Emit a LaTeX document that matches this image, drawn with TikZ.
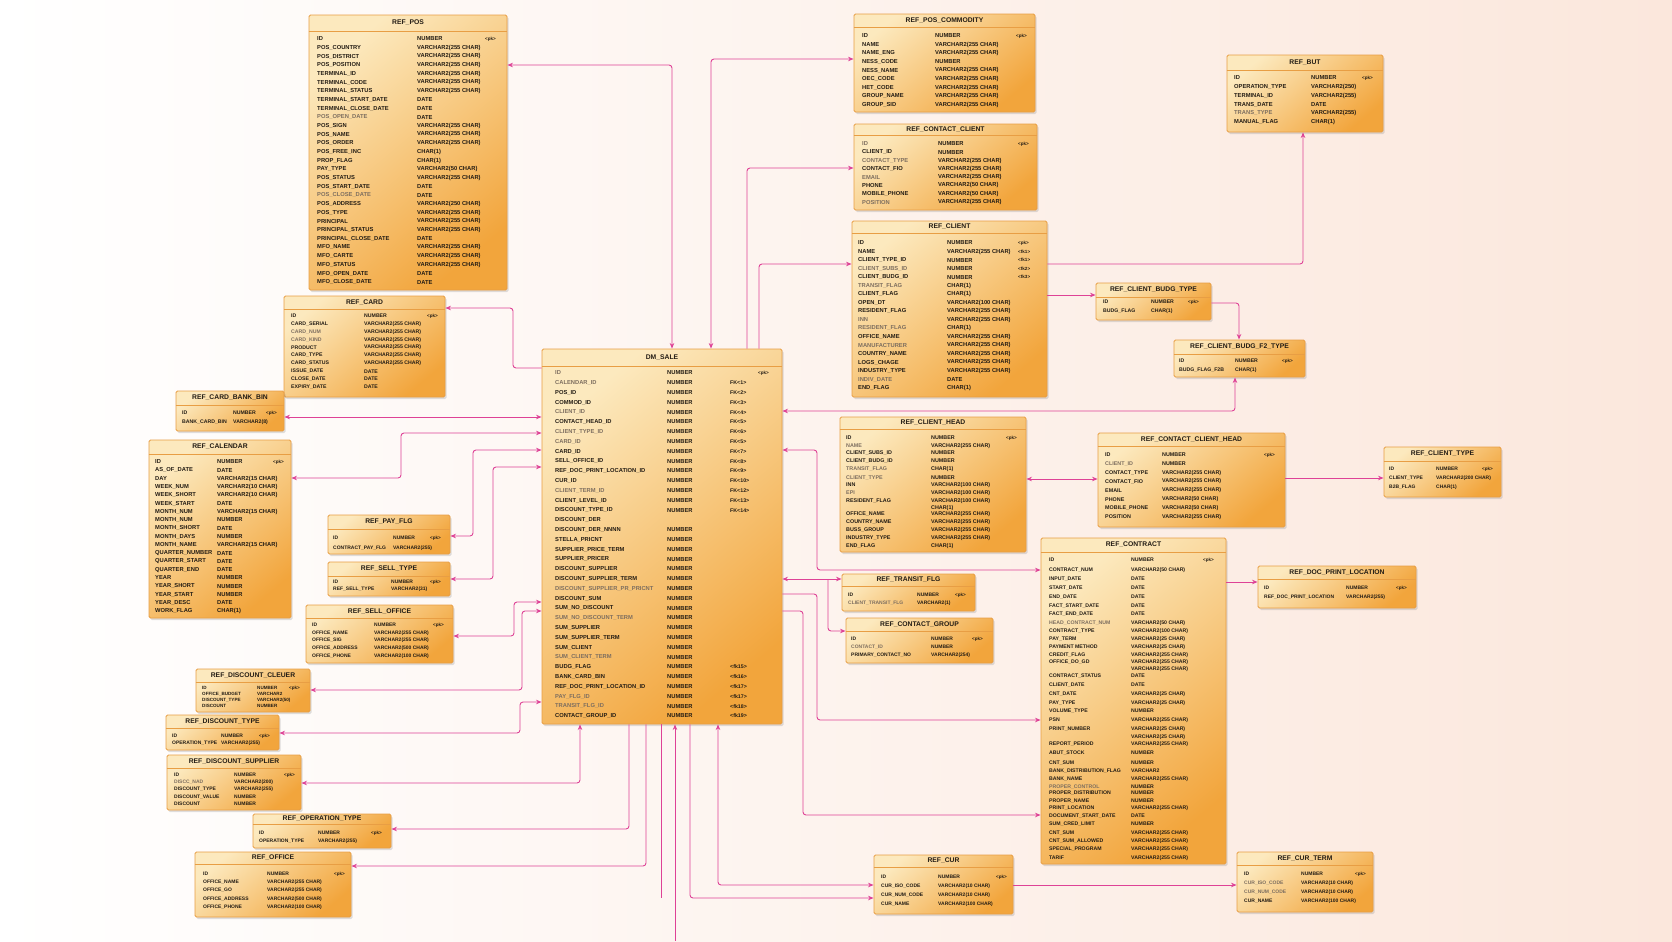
\documentclass[tikz,border=0pt]{standalone}
\usepackage{fontspec}
\setmainfont{Liberation Sans}
\usetikzlibrary{arrows.meta,shadows,fit,calc}
\definecolor{lnk}{RGB}{222,66,150}
\definecolor{bedge}{RGB}{232,158,68}
\definecolor{blight}{RGB}{252,233,190}
\definecolor{bdark}{RGB}{242,165,60}
\definecolor{txt}{RGB}{35,28,20}
\definecolor{txtl}{RGB}{125,110,95}
\definecolor{bgpeach}{RGB}{251,231,220}
\newcommand\fd{\color{txtl}}
\def\rfs{5.8}
\def\kfs{4.6}
\tikzset{
  tbl/.style={draw=bedge, line width=0.9bp, rounded corners=1.5bp, inner sep=0pt,
    top color=blight, bottom color=bdark, shading angle=40,
    drop shadow={shadow xshift=1.5bp, shadow yshift=-2bp, opacity=0.25}},
  hline/.style={draw=bedge, line width=0.7bp},
  ttl/.style={font=\fontsize{6.8}{7}\selectfont\bfseries, text=txt, inner sep=0pt},
  fld/.style={anchor=west, font=\fontsize{\rfs}{6}\selectfont\bfseries, text=txt, inner sep=0pt},
  keyt/.style={anchor=west, font=\fontsize{\kfs}{5}\selectfont\bfseries, text=txt, inner sep=0pt},
  fk/.style={draw=lnk, line width=0.9bp, rounded corners=3bp},
  ar/.style={-{Stealth[length=5.5bp,width=4.5bp]}},
  ra/.style={{Stealth[length=5.5bp,width=4.5bp]}-},
  arb/.style={{Stealth[length=5.5bp,width=4.5bp]}-{Stealth[length=5.5bp,width=4.5bp]}},
  ao/.style={-{Stealth[open,length=5.5bp,width=4.5bp]}},
  aob/.style={{Stealth[open,length=5.5bp,width=4.5bp]}-{Stealth[length=5.5bp,width=4.5bp]}},
  abo/.style={{Stealth[length=5.5bp,width=4.5bp]}-{Stealth[open,length=5.5bp,width=4.5bp]}},
}
% id x1 y1 x2 y2 yheader title
\newcommand\ertab[7]{%
  \node[tbl, fit={(#2,#3) (#4,#5)}] (#1) {};
  \draw[hline] (#1.west |- 0,#6) -- (#1.east |- 0,#6);
  \node[ttl] (#1-t) at ({(#2+#4)/2},{(#3+#6)/2}) {#7};
}
% id fx tx kx y0 dy list
\newcommand\rowsu[7]{%
  \foreach \f/\t/\k [count=\i from 0] in {#7} {
    \node[fld] (#1-f\i) at (#2,{#5+\i*#6}) {\f};
    \node[fld] (#1-y\i) at (#3,{#5+\i*#6}) {\t};
    \node[keyt] (#1-k\i) at (#4,{#5+\i*#6}) {\k};
  }}
% id fx tx kx list f/t/k/y
\newcommand\rowsy[5]{%
  \foreach \f/\t/\k/\y [count=\i from 0] in {#5} {
    \node[fld] (#1-f\i) at (#2,\y) {\f};
    \node[fld] (#1-y\i) at (#3,\y) {\t};
    \node[keyt] (#1-k\i) at (#4,\y) {\k};
  }}
\begin{document}
\begin{tikzpicture}[x=1bp,y=-1bp]
\useasboundingbox (0,0) rectangle (1672,941);
\shade[left color=white, right color=bgpeach] (0,0) rectangle (1672,941);

% ---------------- tables ----------------
\ertab{pos}{309}{15}{507}{290}{31}{REF\_POS}
\rowsu{pos}{317}{417}{485}{39}{8.68}{ID/NUMBER/<pk>,POS\_COUNTRY/VARCHAR2(255 CHAR)/{},POS\_DISTRICT/VARCHAR2(255 CHAR)/{},POS\_POSITION/VARCHAR2(255 CHAR)/{},TERMINAL\_ID/VARCHAR2(255 CHAR)/{},TERMINAL\_CODE/VARCHAR2(255 CHAR)/{},TERMINAL\_STATUS/VARCHAR2(255 CHAR)/{},TERMINAL\_START\_DATE/DATE/{},TERMINAL\_CLOSE\_DATE/DATE/{},\fd POS\_OPEN\_DATE/DATE/{},POS\_SIGN/VARCHAR2(255 CHAR)/{},POS\_NAME/VARCHAR2(255 CHAR)/{},POS\_ORDER/VARCHAR2(255 CHAR)/{},POS\_FREE\_INC/CHAR(1)/{},PROP\_FLAG/CHAR(1)/{},PAY\_TYPE/VARCHAR2(50 CHAR)/{},POS\_STATUS/VARCHAR2(255 CHAR)/{},POS\_START\_DATE/DATE/{},\fd POS\_CLOSE\_DATE/DATE/{},POS\_ADDRESS/VARCHAR2(250 CHAR)/{},POS\_TYPE/VARCHAR2(255 CHAR)/{},PRINCIPAL/VARCHAR2(255 CHAR)/{},PRINCIPAL\_STATUS/VARCHAR2(255 CHAR)/{},PRINCIPAL\_CLOSE\_DATE/DATE/{},MFO\_NAME/VARCHAR2(255 CHAR)/{},MFO\_CARTE/VARCHAR2(255 CHAR)/{},MFO\_STATUS/VARCHAR2(255 CHAR)/{},MFO\_OPEN\_DATE/DATE/{},MFO\_CLOSE\_DATE/DATE/{}}

\ertab{poscom}{854}{14}{1035}{112}{27}{REF\_POS\_COMMODITY}
\rowsu{poscom}{862}{935}{1016}{36}{8.6}{ID/NUMBER/<pk>,NAME/VARCHAR2(255 CHAR)/{},NAME\_ENG/VARCHAR2(255 CHAR)/{},NESS\_CODE/NUMBER/{},NESS\_NAME/VARCHAR2(255 CHAR)/{},OEC\_CODE/VARCHAR2(255 CHAR)/{},HET\_CODE/VARCHAR2(255 CHAR)/{},GROUP\_NAME/VARCHAR2(255 CHAR)/{},GROUP\_SID/VARCHAR2(255 CHAR)/{}}

\ertab{contcl}{854}{124}{1037}{210}{135}{REF\_CONTACT\_CLIENT}
\rowsu{contcl}{862}{938}{1018}{144}{8.3}{\fd ID/NUMBER/<pk>,CLIENT\_ID/NUMBER/{},\fd CONTACT\_TYPE/VARCHAR2(255 CHAR)/{},CONTACT\_FIO/VARCHAR2(255 CHAR)/{},\fd EMAIL/VARCHAR2(255 CHAR)/{},PHONE/VARCHAR2(50 CHAR)/{},MOBILE\_PHONE/VARCHAR2(50 CHAR)/{},\fd POSITION/VARCHAR2(255 CHAR)/{}}

\ertab{client}{852}{221}{1047}{397}{233}{REF\_CLIENT}
\rowsu{client}{858}{947}{1018}{243}{8.53}{ID/NUMBER/<pk>,NAME/VARCHAR2(255 CHAR)/<fk1>,CLIENT\_TYPE\_ID/NUMBER/<fk1>,\fd CLIENT\_SUBS\_ID/NUMBER/<fk2>,CLIENT\_BUDG\_ID/NUMBER/<fk3>,\fd TRANSIT\_FLAG/CHAR(1)/{},CLIENT\_FLAG/CHAR(1)/{},OPEN\_DT/VARCHAR2(100 CHAR)/{},RESIDENT\_FLAG/VARCHAR2(255 CHAR)/{},\fd INN/VARCHAR2(255 CHAR)/{},\fd RESIDENT\_FLAG/CHAR(1)/{},OFFICE\_NAME/VARCHAR2(255 CHAR)/{},\fd MANUFACTURER/VARCHAR2(255 CHAR)/{},COUNTRY\_NAME/VARCHAR2(255 CHAR)/{},LOGS\_CHAGE/VARCHAR2(255 CHAR)/{},INDUSTRY\_TYPE/VARCHAR2(255 CHAR)/{},\fd INDIV\_DATE/DATE/{},END\_FLAG/CHAR(1)/{}}

\ertab{but}{1227}{55}{1383}{132}{70}{REF\_BUT}
\rowsu{but}{1234}{1311}{1362}{78}{8.8}{ID/NUMBER/<pk>,OPERATION\_TYPE/VARCHAR2(250)/{},TERMINAL\_ID/VARCHAR2(255)/{},TRANS\_DATE/DATE/{},\fd TRANS\_TYPE/VARCHAR2(255)/{},MANUAL\_FLAG/CHAR(1)/{}}

\def\rfs{5.2}
\ertab{budg}{1096}{283}{1211}{320}{297}{REF\_CLIENT\_BUDG\_TYPE}
\rowsu{budg}{1103}{1151}{1188}{302}{9}{ID/NUMBER/<pk>,BUDG\_FLAG/CHAR(1)/{}}

\ertab{budgf}{1174}{340}{1305}{377}{354}{REF\_CLIENT\_BUDG\_F2\_TYPE}
\rowsu{budgf}{1179}{1235}{1282}{361}{9}{ID/NUMBER/<pk>,BUDG\_FLAG\_F2B/CHAR(1)/{}}
\def\rfs{5.8}

\def\kfs{5.3}
\ertab{dm}{542}{349}{782}{724}{366}{DM\_SALE}
\rowsu{dm}{555}{667}{730}{373}{9.8}{\fd ID/NUMBER/{},\fd CALENDAR\_ID/NUMBER/FK<1>,POS\_ID/NUMBER/FK<2>,COMMOD\_ID/NUMBER/FK<3>,\fd CLIENT\_ID/NUMBER/FK<4>,CONTACT\_HEAD\_ID/NUMBER/FK<5>,\fd CLIENT\_TYPE\_ID/NUMBER/FK<6>,\fd CARD\_ID/NUMBER/FK<5>,CARD\_ID/NUMBER/FK<7>,SELL\_OFFICE\_ID/NUMBER/FK<8>,REF\_DOC\_PRINT\_LOCATION\_ID/NUMBER/FK<9>,CUR\_ID/NUMBER/FK<10>,\fd CLIENT\_TERM\_ID/NUMBER/FK<12>,CLIENT\_LEVEL\_ID/NUMBER/FK<13>,DISCOUNT\_TYPE\_ID/NUMBER/FK<14>,DISCOUNT\_DER/{}/{},DISCOUNT\_DER\_NNNN/NUMBER/{},STELLA\_PRICNT/NUMBER/{},SUPPLIER\_PRICE\_TERM/NUMBER/{},SUPPLIER\_PRICER/NUMBER/{},DISCOUNT\_SUPPLIER/NUMBER/{},DISCOUNT\_SUPPLIER\_TERM/NUMBER/{},\fd DISCOUNT\_SUPPLIER\_PR\_PRICNT/NUMBER/{},DISCOUNT\_SUM/NUMBER/{},SUM\_NO\_DISCOUNT/NUMBER/{},\fd SUM\_NO\_DISCOUNT\_TERM/NUMBER/{},SUM\_SUPPLIER/NUMBER/{},SUM\_SUPPLIER\_TERM/NUMBER/{},SUM\_CLIENT/NUMBER/{},\fd SUM\_CLIENT\_TERM/NUMBER/{},BUDG\_FLAG/NUMBER/<fk15>,BANK\_CARD\_BIN/NUMBER/<fk16>,REF\_DOC\_PRINT\_LOCATION\_ID/NUMBER/<fk17>,\fd PAY\_FLG\_ID/NUMBER/<fk17>,\fd TRANSIT\_FLG\_ID/NUMBER/<fk18>,CONTACT\_GROUP\_ID/NUMBER/<fk19>}
\def\kfs{4.6}
\node[keyt] (dm-pk) at (758,373) {<pk>};

\def\rfs{5.2}
\ertab{card}{284}{296}{445}{397}{309}{REF\_CARD}
\rowsu{card}{291}{364}{427}{316}{7.9}{ID/NUMBER/<pk>,CARD\_SERIAL/VARCHAR2(255 CHAR)/{},\fd CARD\_NUM/VARCHAR2(255 CHAR)/{},\fd CARD\_KIND/VARCHAR2(255 CHAR)/{},PRODUCT/VARCHAR2(255 CHAR)/{},CARD\_TYPE/VARCHAR2(255 CHAR)/{},CARD\_STATUS/VARCHAR2(255 CHAR)/{},ISSUE\_DATE/DATE/{},CLOSE\_DATE/DATE/{},EXPIRY\_DATE/DATE/{}}

\ertab{bin}{176}{391}{284}{431}{405}{REF\_CARD\_BANK\_BIN}
\rowsu{bin}{182}{233}{266}{413}{9}{ID/NUMBER/<pk>,BANK\_CARD\_BIN/VARCHAR2(8)/{}}
\def\rfs{5.8}

\ertab{cal}{149}{440}{291}{618}{454}{REF\_CALENDAR}
\rowsu{cal}{155}{217}{273}{462}{8.28}{ID/NUMBER/<pk>,AS\_OF\_DATE/DATE/{},DAY/VARCHAR2(15 CHAR)/{},WEEK\_NUM/VARCHAR2(10 CHAR)/{},WEEK\_SHORT/VARCHAR2(10 CHAR)/{},WEEK\_START/DATE/{},MONTH\_NUM/VARCHAR2(15 CHAR)/{},MONTH\_NUM/NUMBER/{},MONTH\_SHORT/DATE/{},MONTH\_DAYS/NUMBER/{},MONTH\_NAME/VARCHAR2(15 CHAR)/{},QUARTER\_NUMBER/DATE/{},QUARTER\_START/DATE/{},QUARTER\_END/DATE/{},YEAR/NUMBER/{},YEAR\_SHORT/NUMBER/{},YEAR\_START/NUMBER/{},YEAR\_DESC/DATE/{},WORK\_FLAG/CHAR(1)/{}}

\def\rfs{5.0}
\ertab{payflg}{328}{515}{450}{554}{529}{REF\_PAY\_FLG}
\rowsu{payflg}{333}{393}{430}{538}{10}{ID/NUMBER/<pk>,CONTRACT\_PAY\_FLG/VARCHAR2(255)/{}}

\ertab{selltype}{328}{562}{450}{596}{576}{REF\_SELL\_TYPE}
\rowsu{selltype}{333}{391}{430}{582}{7.5}{ID/NUMBER/<pk>,REF\_SELL\_TYPE/VARCHAR2(31)/{}}

\ertab{sellof}{306}{605}{453}{663}{618}{REF\_SELL\_OFFICE}
\rowsu{sellof}{312}{374}{433}{625}{7.75}{ID/NUMBER/<pk>,OFFICE\_NAME/VARCHAR2(255 CHAR)/{},OFFICE\_SIG/VARCHAR2(255 CHAR)/{},OFFICE\_ADDRESS/VARCHAR2(500 CHAR)/{},OFFICE\_PHONE/VARCHAR2(100 CHAR)/{}}

\def\rfs{4.6}
\ertab{disccl}{196}{669}{310}{712}{682}{REF\_DISCOUNT\_CLEUER}
\rowsu{disccl}{202}{257}{289}{688}{6}{ID/NUMBER/<pk>,OFFICE\_BUDGET/VARCHAR2/{},DISCOUNT\_TYPE/VARCHAR2(50)/{},DISCOUNT/NUMBER/{}}

\def\rfs{5.0}
\ertab{disctype}{166}{715}{279}{750}{728}{REF\_DISCOUNT\_TYPE}
\rowsu{disctype}{172}{221}{259}{736}{7.5}{ID/NUMBER/<pk>,OPERATION\_TYPE/VARCHAR2(255)/{}}

\ertab{discsup}{167}{755}{301}{810}{768}{REF\_DISCOUNT\_SUPPLIER}
\rowsu{discsup}{174}{234}{284}{775}{7.25}{ID/NUMBER/<pk>,\fd DISCC\_NAD/VARCHAR2(200)/{},DISCOUNT\_TYPE/VARCHAR2(255)/{},DISCOUNT\_VALUE/NUMBER/{},DISCOUNT/NUMBER/{}}

\ertab{optype}{253}{814}{391}{848}{824}{REF\_OPERATION\_TYPE}
\rowsu{optype}{259}{318}{371}{833}{8}{ID/NUMBER/<pk>,OPERATION\_TYPE/VARCHAR2(255)/{}}

\ertab{office}{195}{852}{351}{917}{864}{REF\_OFFICE}
\rowsu{office}{203}{267}{334}{874}{8.25}{ID/NUMBER/<pk>,OFFICE\_NAME/VARCHAR2(255 CHAR)/{},OFFICE\_GO/VARCHAR2(255 CHAR)/{},OFFICE\_ADDRESS/VARCHAR2(500 CHAR)/{},OFFICE\_PHONE/VARCHAR2(100 CHAR)/{}}

\ertab{cur}{874}{855}{1013}{914}{867}{REF\_CUR}
\rowsu{cur}{881}{938}{996}{877}{9}{ID/NUMBER/<pk>,CUR\_ISO\_CODE/VARCHAR2(10 CHAR)/{},CUR\_NUM\_CODE/VARCHAR2(10 CHAR)/{},CUR\_NAME/VARCHAR2(100 CHAR)/{}}

\ertab{curterm}{1237}{852}{1373}{912}{865}{REF\_CUR\_TERM}
\rowsu{curterm}{1244}{1301}{1355}{874}{9}{ID/NUMBER/<pk>,\fd CUR\_ISO\_CODE/VARCHAR2(10 CHAR)/{},\fd CUR\_NUM\_CODE/VARCHAR2(10 CHAR)/{},CUR\_NAME/VARCHAR2(100 CHAR)/{}}

\ertab{transit}{842}{574}{975}{611}{586}{REF\_TRANSIT\_FLG}
\rowsu{transit}{848}{917}{955}{595}{8}{ID/NUMBER/<pk>,\fd CLIENT\_TRANSIT\_FLG/VARCHAR2(1)/{}}

\ertab{cgroup}{846}{618}{993}{663}{631}{REF\_CONTACT\_GROUP}
\rowsu{cgroup}{851}{931}{972}{639}{8}{ID/NUMBER/<pk>,\fd CONTACT\_ID/NUMBER/{},PRIMARY\_CONTACT\_NO/VARCHAR2(254)/{}}

\ertab{docprint}{1258}{566}{1416}{608}{579}{REF\_DOC\_PRINT\_LOCATION}
\rowsu{docprint}{1264}{1346}{1396}{588}{9}{ID/NUMBER/<pk>,REF\_DOC\_PRINT\_LOCATION/VARCHAR2(255)/{}}

\ertab{ctype}{1384}{447}{1501}{497}{461}{REF\_CLIENT\_TYPE}
\rowsu{ctype}{1389}{1436}{1482}{469}{9}{ID/NUMBER/<pk>,CLIENT\_TYPE/VARCHAR2(200 CHAR)/{},B2B\_FLAG/CHAR(1)/{}}

\def\rfs{5.4}
\ertab{cchead}{1098}{433}{1285}{527}{446}{REF\_CONTACT\_CLIENT\_HEAD}
\rowsu{cchead}{1105}{1162}{1264}{455}{8.86}{ID/NUMBER/<pk>,\fd CLIENT\_ID/NUMBER/{},CONTACT\_TYPE/VARCHAR2(255 CHAR)/{},CONTACT\_FIO/VARCHAR2(255 CHAR)/{},EMAIL/VARCHAR2(255 CHAR)/{},PHONE/VARCHAR2(50 CHAR)/{},MOBILE\_PHONE/VARCHAR2(50 CHAR)/{},POSITION/VARCHAR2(255 CHAR)/{}}

\ertab{chead}{840}{417}{1026}{552}{429}{REF\_CLIENT\_HEAD}
\rowsy{chead}{846}{931}{1006}{ID/NUMBER/<pk>/438,\fd NAME/VARCHAR2(255 CHAR)/{}/446,CLIENT\_SUBS\_ID/NUMBER/{}/453,CLIENT\_BUDG\_ID/NUMBER/{}/461,\fd TRANSIT\_FLAG/CHAR(1)/{}/469,\fd CLIENT\_TYPE/NUMBER/{}/478,INN/VARCHAR2(100 CHAR)/{}/485,\fd EPI/VARCHAR2(100 CHAR)/{}/493,RESIDENT\_FLAG/VARCHAR2(100 CHAR)/{}/501,{}/CHAR(1)/{}/508,OFFICE\_NAME/VARCHAR2(255 CHAR)/{}/514,COUNTRY\_NAME/VARCHAR2(255 CHAR)/{}/522,BUSS\_GROUP/VARCHAR2(255 CHAR)/{}/530,INDUSTRY\_TYPE/VARCHAR2(255 CHAR)/{}/538,END\_FLAG/CHAR(1)/{}/546}

\def\rfs{5.2}
\ertab{contract}{1041}{538}{1226}{864}{552}{REF\_CONTRACT}
\rowsy{contract}{1049}{1131}{1203}{ID/NUMBER/<pk>/560,CONTRACT\_NUM/VARCHAR2(50 CHAR)/{}/570,INPUT\_DATE/DATE/{}/579,START\_DATE/DATE/{}/588,END\_DATE/DATE/{}/597,FACT\_START\_DATE/DATE/{}/606,FACT\_END\_DATE/DATE/{}/614,\fd HEAD\_CONTRACT\_NUM/VARCHAR2(50 CHAR)/{}/623,CONTRACT\_TYPE/VARCHAR2(100 CHAR)/{}/631,PAY\_TERM/VARCHAR2(25 CHAR)/{}/639,PAYMENT METHOD/VARCHAR2(25 CHAR)/{}/647,CREDIT\_FLAG/VARCHAR2(255 CHAR)/{}/655,OFFICE\_DO\_GD/VARCHAR2(255 CHAR)/{}/662,{}/VARCHAR2(255 CHAR)/{}/669,CONTRACT\_STATUS/DATE/{}/676,CLIENT\_DATE/DATE/{}/685,CNT\_DATE/VARCHAR2(25 CHAR)/{}/694,PAY\_TYPE/VARCHAR2(25 CHAR)/{}/703,VOLUME\_TYPE/NUMBER/{}/711,PSN/VARCHAR2(255 CHAR)/{}/720,PRINT\_NUMBER/VARCHAR2(25 CHAR)/{}/729,{}/VARCHAR2(25 CHAR)/{}/737,REPORT\_PERIOD/VARCHAR2(255 CHAR)/{}/744,ABUT\_STOCK/NUMBER/{}/753,CNT\_SUM/NUMBER/{}/763,BANK\_DISTRIBUTION\_FLAG/VARCHAR2/{}/771,BANK\_NAME/VARCHAR2(255 CHAR)/{}/779,\fd PROPER\_CONTROL/NUMBER/{}/787,PROPER\_DISTRIBUTION/NUMBER/{}/793,PROPER\_NAME/NUMBER/{}/801,PRINT\_LOCATION/VARCHAR2(255 CHAR)/{}/808,DOCUMENT\_START\_DATE/DATE/{}/816,SUM\_CRED\_LIMIT/NUMBER/{}/824,CNT\_SUM/VARCHAR2(255 CHAR)/{}/833,CNT\_SUM\_ALLOWED/VARCHAR2(255 CHAR)/{}/841,SPECIAL\_PROGRAM/VARCHAR2(255 CHAR)/{}/849,TARIF/VARCHAR2(255 CHAR)/{}/858}
\def\rfs{5.8}

% ---------------- connectors ----------------
% top
\draw[fk,arb] (dm.north -| 672,0) |- (pos.east |- 0,65);
\draw[fk,arb] (dm.north -| 711,0) |- (poscom.west |- 0,59);
\draw[fk,ar] (dm.north -| 747,0) |- (contcl.west |- 0,168);
\draw[fk,ar] (dm.north -| 759,0) |- (client.west |- 0,264);
\draw[fk,ar] (client.east |- 0,264) -| (but.south -| 1303,0);
\draw[fk,ar] (client.east |- 0,295) -- (budg.west |- 0,295);
\draw[fk,ao] (budg.east |- 0,303) -| (budgf.north -| 1239,0);
\draw[fk,arb] (budgf.south -| 1235,0) |- (dm.east |- 0,411);
% left
\draw[fk,ra] (card.east |- 0,308) -- (513,308) -- (513,368) -- (dm.west |- 0,368);
\draw[fk,abo] (bin.east |- 0,417) -- (dm.west |- 0,417);
\draw[fk,arb] (cal.east |- 0,478) -- (401,478) -- (401,433) -- (dm.west |- 0,433);
\draw[fk,arb] (payflg.east |- 0,536) -- (473,536) -- (473,450) -- (dm.west |- 0,450);
\draw[fk,arb] (selltype.east |- 0,579) -- (493,579) -- (493,467) -- (dm.west |- 0,467);
\draw[fk,arb] (sellof.east |- 0,636) -- (514,636) -- (514,602) -- (dm.west |- 0,602);
\draw[fk,abo] (disccl.east |- 0,690) -- (522,690) -- (522,611) -- (dm.west |- 0,611);
\draw[fk,abo] (disctype.east |- 0,733) -- (520,733) -- (520,702) -- (dm.west |- 0,702);
% bottom
\draw[fk,aob] (discsup.east |- 0,783) -| (dm.south -| 580,0);
\draw[fk,ao] (dm.south -| 629,0) |- (optype.east |- 0,829);
\draw[fk,ao] (dm.south -| 646,0) |- (office.east |- 0,866);
\coordinate (e1) at (661,898);
\coordinate (e2) at (675,941);
\draw[fk] (dm.south -| 661,0) -- (e1);
\draw[fk,ra] (dm.south -| 675,0) -- (e2);
\draw[fk,ar] (dm.south -| 690,0) |- (cur.west |- 0,898);
\draw[fk,arb] (dm.south -| 718,0) |- (cur.west |- 0,885);
\draw[fk,ar] (cur.east |- 0,885) -- (curterm.west |- 0,885);
% right
\draw[fk,arb] (dm.east |- 0,450) -- (817,450) -- (817,570) -- (contract.west |- 0,570);
\draw[fk,abo] (dm.east |- 0,579) -- (transit.west |- 0,579);
\coordinate (tj) at (828,579);
\draw[fk,ao] (tj) |- (cgroup.west |- 0,631);
\draw[fk,ar] (dm.east |- 0,594) -- (817,594) -- (817,720) -- (contract.west |- 0,720);
\draw[fk,ar] (dm.east |- 0,611) -- (803,611) -- (803,815) -- (contract.west |- 0,815);
\draw[fk,ao] (contract.east |- 0,582) -- (docprint.west |- 0,582);
\draw[fk,arb] (chead.east |- 0,479) -- (cchead.west |- 0,479);
\draw[fk,ar] (cchead.east |- 0,478) -- (ctype.west |- 0,478);
\end{tikzpicture}
\end{document}
